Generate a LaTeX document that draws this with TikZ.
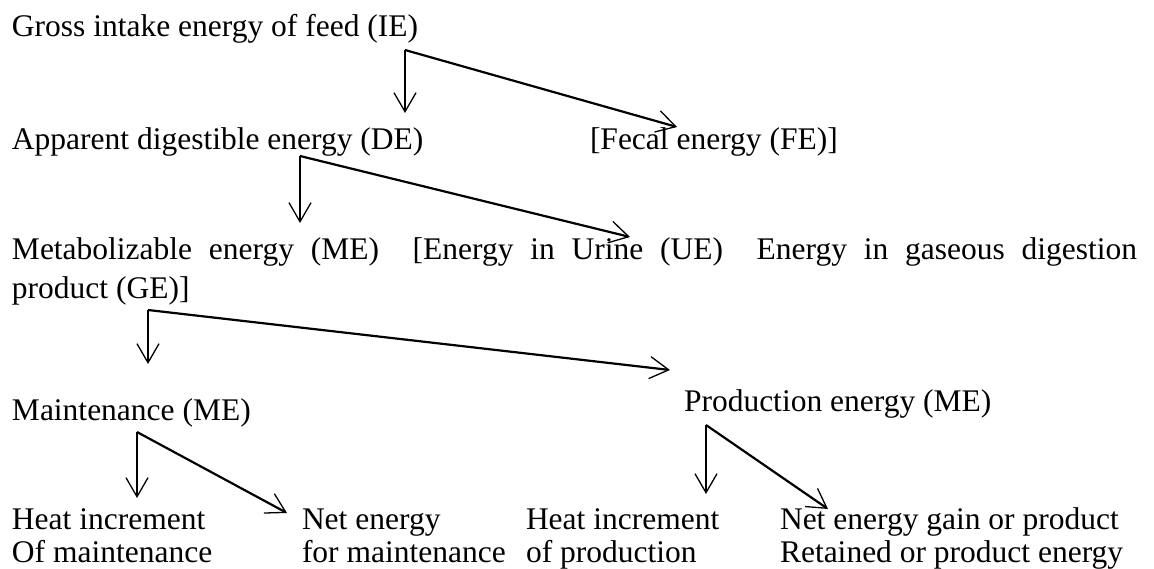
\documentclass[tikz,border=0pt]{standalone}
\usepackage{fontspec}
\setmainfont{Liberation Serif}
\usetikzlibrary{arrows.meta}
\begin{document}
\begin{tikzpicture}[x=1pt,y=-1pt,
  txt/.style={anchor=base west,inner sep=0pt,outer sep=0pt,font=\fontsize{31.5}{34}\selectfont},
  arr/.style={line width=1.5pt,-{Straight Barb[length=19pt,width=22pt,line width=1.3pt]}},
  diag/.style={arr,line width=2.2pt}]
\useasboundingbox (0,0) rectangle (1154,569);
% texts
\node[txt] (ie) at (12,37) {Gross intake energy of feed (IE)};
\node[txt] (de) at (12,150) {Apparent digestible energy (DE)};
\node[txt] (fe) at (590,150) {[Fecal energy (FE)]};
\node[txt] (me) at (12,260) {\makebox[1125pt][s]{Metabolizable energy (ME)\ \ [Energy in Urine (UE)\ \ Energy in gaseous digestion}};
\node[txt] (ge) at (12,299) {product (GE)]};
\node[txt] (mm) at (12,420) {Maintenance (ME)};
\node[txt] (pe) at (684,411) {Production energy (ME)};
\node[txt] (hm1) at (12,529) {Heat increment};
\node[txt] (hm2) at (12,562) {Of maintenance};
\node[txt] (nm1) at (302,529) {Net energy};
\node[txt] (nm2) at (302,562) {for maintenance};
\node[txt] (hp1) at (526,529) {Heat increment};
\node[txt] (hp2) at (526,562) {of production};
\node[txt] (np1) at (780,529) {Net energy gain or product};
\node[txt] (np2) at (780,562) {Retained or product energy};
% split points and tips
\coordinate (s1) at (405,50);  \coordinate (t1a) at (405,113); \coordinate (t1b) at (677,127);
\coordinate (s2) at (300,156); \coordinate (t2a) at (300,223); \coordinate (t2b) at (630,237);
\coordinate (s3) at (148,310); \coordinate (t3a) at (148,364); \coordinate (t3b) at (670,370);
\coordinate (s4) at (137,432); \coordinate (t4a) at (137,498); \coordinate (t4b) at (287,513);
\coordinate (s5) at (706,425); \coordinate (t5a) at (706,494); \coordinate (t5b) at (828,509);
% connectors
\draw[arr] (s1) -- (t1a);
\draw[diag] (s1) -- (t1b);
\draw[arr] (s2) -- (t2a);
\draw[diag] (s2) -- (t2b);
\draw[arr] (s3) -- (t3a);
\draw[diag] (s3) -- (t3b);
\draw[arr] (s4) -- (t4a);
\draw[diag] (s4) -- (t4b);
\draw[arr] (s5) -- (t5a);
\draw[diag] (s5) -- (t5b);
\end{tikzpicture}
\end{document}
